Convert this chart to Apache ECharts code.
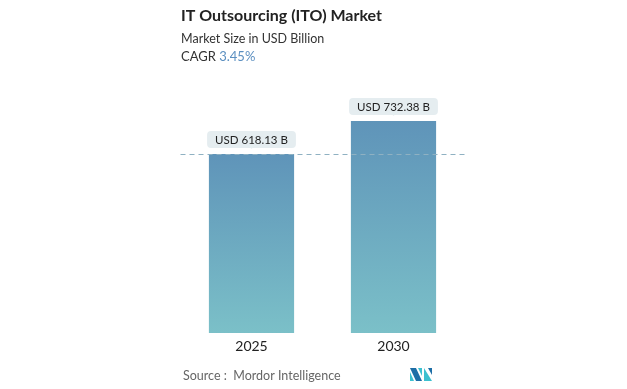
<!DOCTYPE html>
<html>
<head>
<meta charset="utf-8">
<script src="https://cdn.jsdelivr.net/npm/echarts@6/dist/echarts.min.js"></script>
<style>
html,body{margin:0;padding:0;background:#fff;}
#chart{width:627px;height:389px;}
</style>
</head>
<body>
<div id="chart"></div>
<script>
const categories = ['2025', '2030'];
const values = [618.13, 732.38];
const labelTexts = ['USD 618.13 B', 'USD 732.38 B'];
const titleText = 'IT Outsourcing (ITO) Market';
const subtitleText = 'Market Size in USD Billion';
const cagrLabel = 'CAGR';
const cagrValue = '3.45%';
const sourceText = 'Source :  Mordor Intelligence';

const FONT = 'Lato, "Open Sans", sans-serif';
const chart = echarts.init(document.getElementById('chart'));

const option = {
  backgroundColor: '#fff',
  animation: false,
  grid: { left: 180.5, right: 162.5, top: 101.3, bottom: 56 },
  xAxis: {
    type: 'category',
    data: categories,
    axisLine: { show: false },
    axisTick: { show: false },
    axisLabel: { color: '#222', fontSize: 14, fontFamily: FONT, margin: 6 }
  },
  yAxis: {
    type: 'value',
    min: 0,
    max: 800,
    show: false,
    splitLine: { show: false }
  },
  graphic: [
    { type: 'text', left: 181, top: 8, style: { text: titleText, fontSize: 16, fontWeight: 'bold', fill: '#222', fontFamily: FONT } },
    { type: 'text', left: 181, top: 32, style: { text: subtitleText, fontSize: 12.5, fill: '#333', fontFamily: FONT } },
    { type: 'text', left: 181, top: 50, style: {
        text: '{a|' + cagrLabel + '} {b|' + cagrValue + '}',
        rich: {
          a: { fontSize: 13, fill: '#333', color: '#333', fontFamily: FONT },
          b: { fontSize: 13, fill: '#5b8fc0', color: '#5b8fc0', fontFamily: FONT }
        }
      } },
    { type: 'text', left: 183, top: 369, style: { text: sourceText, fontSize: 12.5, fill: '#666', fontFamily: FONT } },
    // logo
    { type: 'polygon', shape: { points: [[410, 368], [416, 368], [422, 381], [416, 381]] }, style: { fill: '#1d6ea6' } },
    { type: 'polygon', shape: { points: [[410, 372], [414, 381], [410, 381]] }, style: { fill: '#3cc0cf' } },
    { type: 'polygon', shape: { points: [[418, 368], [422, 368], [422, 376]] }, style: { fill: '#3cc0cf' } },
    { type: 'polygon', shape: { points: [[424, 368], [432, 381], [424, 381]] }, style: { fill: '#3cc0cf' } },
    { type: 'polygon', shape: { points: [[428, 368], [432, 368], [432, 375]] }, style: { fill: '#1d6ea6' } }
  ],
  series: [
    {
      type: 'bar',
      data: values,
      barWidth: '60%',
      itemStyle: {
        color: new echarts.graphic.LinearGradient(0, 0, 0, 1, [
          { offset: 0, color: '#5f94b9' },
          { offset: 1, color: '#7bc0c8' }
        ])
      },
      label: {
        show: true,
        position: 'top',
        distance: 6,
        formatter: p => labelTexts[p.dataIndex],
        backgroundColor: '#e5edf0',
        borderRadius: 4,
        padding: [3, 8, 2, 8],
        color: '#222',
        fontSize: 11.5,
        fontFamily: FONT
      },
      markLine: {
        silent: true,
        symbol: 'none',
        label: { show: false },
        lineStyle: { color: '#8fb1c2', type: [5, 4], width: 1 },
        data: [{ yAxis: values[0] }]
      },
      z: 2
    },
    {
      type: 'scatter',
      data: values,
      symbol: 'triangle',
      symbolRotate: 180,
      symbolSize: [8, 4],
      symbolOffset: [0, -7],
      itemStyle: { color: '#e5edf0' },
      silent: true,
      z: 3
    }
  ]
};
chart.setOption(option);
</script>
</body>
</html>
